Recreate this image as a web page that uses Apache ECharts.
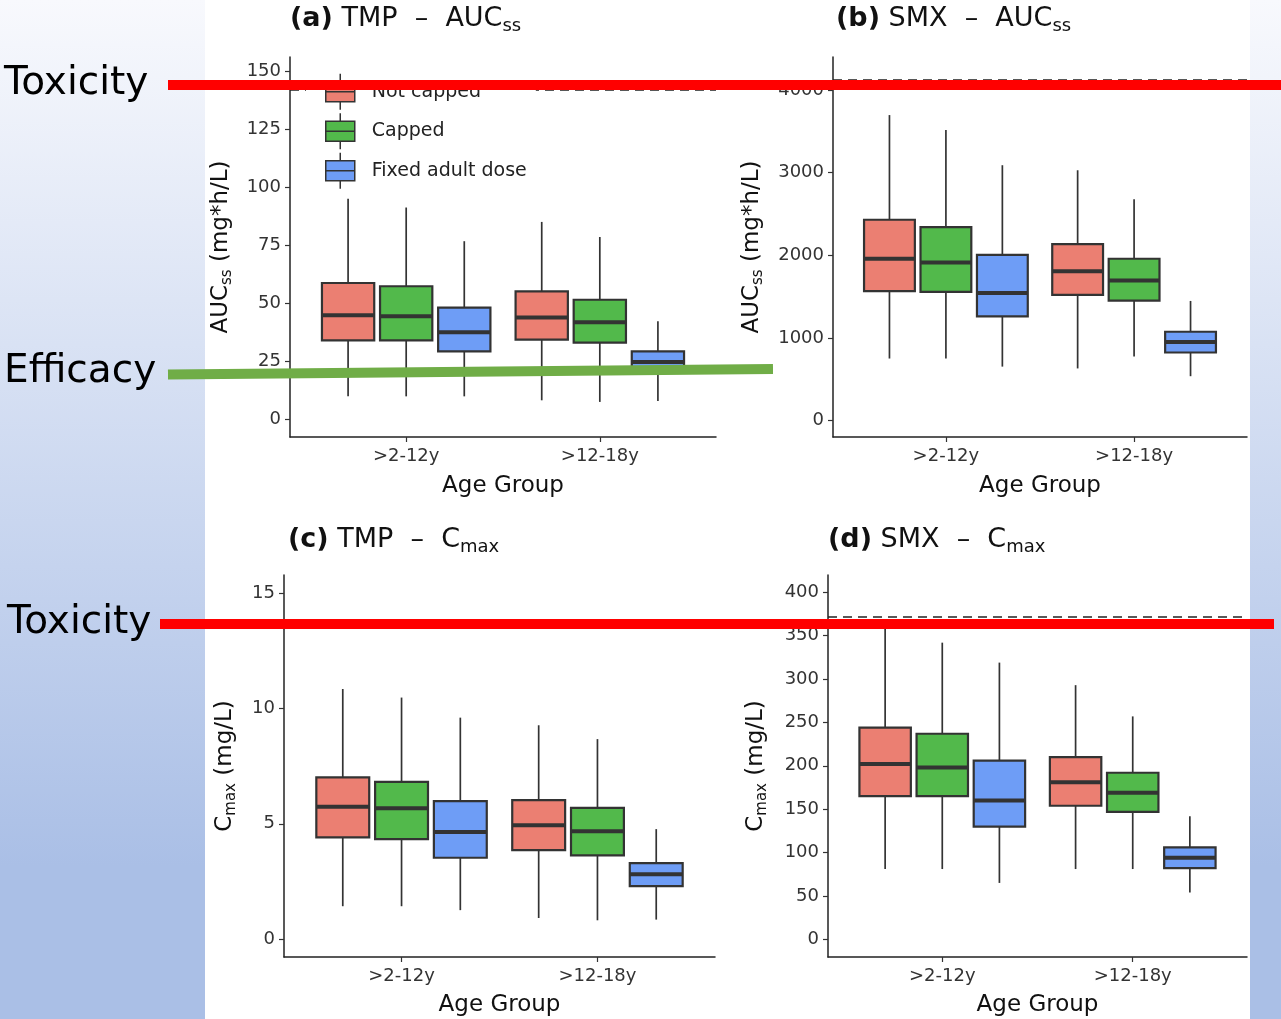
<!DOCTYPE html>
<html>
<head>
<meta charset="utf-8">
<script src="https://cdn.jsdelivr.net/npm/echarts@6/dist/echarts.min.js"></script>
<style>
  html, body { margin: 0; padding: 0; }
  body {
    width: 1281px; height: 1019px; position: relative; overflow: hidden;
    background: linear-gradient(180deg, #f8f9fd 0%, #aabfe6 85%, #aabfe6 100%);
  }
  #paper { position: absolute; left: 205px; top: 0; width: 1045px; height: 1019px; background: #fff; }
  #main { position: absolute; left: 0; top: 0; width: 1281px; height: 1019px; }
</style>
</head>
<body>
<div id="paper"></div>
<div id="main"></div>
<script>
// categories
const ageGroups = ['>2-12y', '>12-18y'];
const regimens = ['Not capped', 'Capped', 'Fixed adult dose'];
const regimenColors = ['#EB7F72', '#52B94B', '#6E9DF6'];

// box stats per age group: [lower whisker, Q1, median, Q3, upper whisker]
// (a) TMP AUCss
const tmpAucNotCapped = [[9.9, 34.0, 44.8, 58.7, 95.0], [8.2, 34.3, 43.8, 55.1, 85.0]];
const tmpAucCapped    = [[9.9, 34.0, 44.4, 57.3, 91.2], [7.5, 33.0, 41.8, 51.5, 78.5]];
const tmpAucFixed     = [[9.9, 29.3, 37.5, 48.1, 76.7], [7.9, 22.0, 24.7, 29.3, 42.2]];
// (b) SMX AUCss
const smxAucNotCapped = [[750, 1565, 1958, 2430, 3697], [630, 1520, 1807, 2134, 3029]];
const smxAucCapped    = [[750, 1557, 1912, 2340, 3515], [775, 1451, 1694, 1958, 2677]];
const smxAucFixed     = [[652, 1260, 1544, 2005, 3090], [536, 823, 949, 1074, 1447]];
// (c) TMP Cmax
const tmpCmaxNotCapped = [[1.43, 4.41, 5.74, 7.01, 10.84], [0.92, 3.86, 4.94, 6.03, 9.27]];
const tmpCmaxCapped    = [[1.43, 4.34, 5.67, 6.82, 10.47], [0.82, 3.63, 4.68, 5.69, 8.67]];
const tmpCmaxFixed     = [[1.26, 3.53, 4.65, 5.98, 9.60], [0.85, 2.30, 2.82, 3.30, 4.77]];
// (d) SMX Cmax
const smxCmaxNotCapped = [[81, 165, 202, 244, 362], [81, 154, 181, 210, 293]];
const smxCmaxCapped    = [[81, 165, 198, 237, 342], [81, 147, 169, 192, 257]];
const smxCmaxFixed     = [[65, 130, 160, 206, 319], [54, 82, 94, 106, 142]];

// tick labels and dashed toxicity thresholds
const tmpAucTicks = [0, 25, 50, 75, 100, 125, 150];
const smxAucTicks = [0, 1000, 2000, 3000, 4000];
const tmpCmaxTicks = [0, 5, 10, 15];
const smxCmaxTicks = [0, 50, 100, 150, 200, 250, 300, 350, 400];
const toxicLimits = [142, 4130, null, 372];

const FONT = '"DejaVu Sans", sans-serif';
const DODGE = 0.3;
const BOX_W = 0.27;

const panels = [
  { boxes: [tmpAucNotCapped, tmpAucCapped, tmpAucFixed], ticks: tmpAucTicks, range: [-7.6, 156],
    grid: { left: 290, top: 57, width: 426, height: 380 }, title: ['(a)', ' TMP  –  AUC', 'ss'],
    titlePos: [290, 3], yName: '{m|AUC}{s|ss}{m| (mg*h/L)}', yGap: 55 },
  { boxes: [smxAucNotCapped, smxAucCapped, smxAucFixed], ticks: smxAucTicks, range: [-200, 4400],
    grid: { left: 833, top: 57, width: 414, height: 380 }, title: ['(b)', ' SMX  –  AUC', 'ss'],
    titlePos: [836, 3], yName: '{m|AUC}{s|ss}{m| (mg*h/L)}', yGap: 67 },
  { boxes: [tmpCmaxNotCapped, tmpCmaxCapped, tmpCmaxFixed], ticks: tmpCmaxTicks, range: [-0.77, 15.78],
    grid: { left: 284, top: 575, width: 431, height: 382 }, title: ['(c)', ' TMP  –  C', 'max'],
    titlePos: [288, 524], yName: '{m|C}{s|max}{m| (mg/L)}', yGap: 45 },
  { boxes: [smxCmaxNotCapped, smxCmaxCapped, smxCmaxFixed], ticks: smxCmaxTicks, range: [-20.4, 420],
    grid: { left: 828, top: 575, width: 419, height: 382 }, title: ['(d)', ' SMX  –  C', 'max'],
    titlePos: [828, 524], yName: '{m|C}{s|max}{m| (mg/L)}', yGap: 58 }
];

function renderBox(params, api) {
  const x = api.value(0);
  const low = api.coord([x, api.value(1)]);
  const q1 = api.coord([x, api.value(2)]);
  const med = api.coord([x, api.value(3)]);
  const q3 = api.coord([x, api.value(4)]);
  const high = api.coord([x, api.value(5)]);
  const half = api.size([BOX_W, 0])[0] / 2;
  return {
    type: 'group',
    children: [
      { type: 'line', shape: { x1: low[0], y1: low[1], x2: high[0], y2: high[1] },
        style: { stroke: '#333', lineWidth: 1.7 } },
      { type: 'rect', shape: { x: q3[0] - half, y: q3[1], width: half * 2, height: q1[1] - q3[1] },
        style: { fill: api.visual('color'), stroke: '#333', lineWidth: 2.2 } },
      { type: 'line', shape: { x1: med[0] - half, y1: med[1], x2: med[0] + half, y2: med[1] },
        style: { stroke: '#333', lineWidth: 4 } }
    ]
  };
}

const grids = [], xAxes = [], yAxes = [], titles = [], series = [];
panels.forEach((p, pi) => {
  grids.push(Object.assign({ containLabel: false }, p.grid));
  titles.push({
    left: p.titlePos[0], top: p.titlePos[1], padding: 0,
    text: '{b|' + p.title[0] + '}{n|' + p.title[1] + '}{s|' + p.title[2] + '}',
    textStyle: {
      fontFamily: FONT, fontWeight: 'normal',
      rich: {
        b: { fontFamily: FONT, fontSize: 27, fontWeight: 'bold', color: '#111', lineHeight: 32 },
        n: { fontFamily: FONT, fontSize: 27, fontWeight: 'normal', color: '#111', lineHeight: 32 },
        s: { fontFamily: FONT, fontSize: 18, fontWeight: 'normal', color: '#111', lineHeight: 20, verticalAlign: 'bottom' }
      }
    }
  });
  xAxes.push({
    type: 'value', gridIndex: pi, min: 0.4, max: 2.6,
    name: 'Age Group', nameLocation: 'middle', nameGap: pi < 2 ? 38 : 37,
    nameTextStyle: { fontFamily: FONT, fontSize: 23, color: '#111' },
    axisLine: { onZero: false, lineStyle: { color: '#222', width: 1.5 } },
    axisTick: { customValues: [1, 2], length: 5, lineStyle: { color: '#333', width: 1.2 } },
    axisLabel: { customValues: [1, 2], margin: 10, fontFamily: FONT, fontSize: 18, color: '#333',
      formatter: v => ageGroups[Math.round(v) - 1] },
    splitLine: { show: false }
  });
  yAxes.push({
    type: 'value', gridIndex: pi, min: p.range[0], max: p.range[1],
    name: p.yName, nameLocation: 'middle', nameRotate: 90, nameGap: p.yGap,
    nameTextStyle: {
      rich: {
        m: { fontFamily: FONT, fontSize: 23, color: '#111', lineHeight: 27 },
        s: { fontFamily: FONT, fontSize: 15, color: '#111', lineHeight: 16, verticalAlign: 'bottom' }
      }
    },
    axisLine: { show: true, onZero: false, lineStyle: { color: '#222', width: 1.5 } },
    axisTick: { show: true, customValues: p.ticks, length: 5, lineStyle: { color: '#333', width: 1.2 } },
    axisLabel: { customValues: p.ticks, margin: 9, fontFamily: FONT, fontSize: 18, color: '#333',
      formatter: v => String(v) },
    splitLine: { show: false }
  });
  p.boxes.forEach((stats, ri) => {
    const s = {
      type: 'custom', name: regimens[ri], xAxisIndex: pi, yAxisIndex: pi, z: 2,
      itemStyle: { color: regimenColors[ri], borderColor: '#333', borderWidth: 1.5 },
      dimensions: ['x', 'low', 'q1', 'median', 'q3', 'high'],
      encode: { x: 0, y: [1, 2, 3, 4, 5] },
      renderItem: renderBox,
      data: stats.map((st, gi) => [gi + 1 + (ri - 1) * DODGE].concat(st))
    };
    if (ri === 0 && toxicLimits[pi] != null) {
      s.markLine = {
        silent: true, symbol: 'none', label: { show: false }, z: 1,
        lineStyle: { type: [9, 6], color: '#222', width: 1.5 },
        data: [{ yAxis: toxicLimits[pi] }]
      };
    }
    series.push(s);
  });
});

const chart = echarts.init(document.getElementById('main'));
chart.setOption({
  animation: false,
  backgroundColor: 'transparent',
  title: titles,
  grid: grids,
  xAxis: xAxes,
  yAxis: yAxes,
  legend: {
    data: regimens, orient: 'vertical', left: 306, top: 71, z: 20,
    padding: [2, 9, 2, 19], itemGap: 2, itemWidth: 29, itemHeight: 36,
    backgroundColor: '#fff',
    icon: 'path://M14.5,0V8M0,8H29V28H0ZM0,18H29M14.5,28V36',
    itemStyle: { borderColor: '#333', borderWidth: 1.5 },
    textStyle: { fontFamily: FONT, fontSize: 19, color: '#222', padding: [0, 0, 0, 12] }
  },
  series: series,
  graphic: [
    { type: 'text', z: 100, left: 4, top: 64,
      style: { text: 'Toxicity', fontFamily: FONT, fontSize: 39, fill: '#000' } },
    { type: 'text', z: 100, left: 4, top: 352,
      style: { text: 'Efficacy', fontFamily: FONT, fontSize: 39, fill: '#000' } },
    { type: 'text', z: 100, left: 7, top: 603,
      style: { text: 'Toxicity', fontFamily: FONT, fontSize: 39, fill: '#000' } },
    { type: 'line', z: 100, shape: { x1: 168, y1: 85, x2: 1281, y2: 85 },
      style: { stroke: '#FF0000', lineWidth: 10 } },
    { type: 'line', z: 100, shape: { x1: 168, y1: 374.5, x2: 773, y2: 369 },
      style: { stroke: '#70AD47', lineWidth: 10 } },
    { type: 'line', z: 100, shape: { x1: 160, y1: 624, x2: 1274, y2: 624 },
      style: { stroke: '#FF0000', lineWidth: 10 } }
  ]
});
</script>
</body>
</html>
